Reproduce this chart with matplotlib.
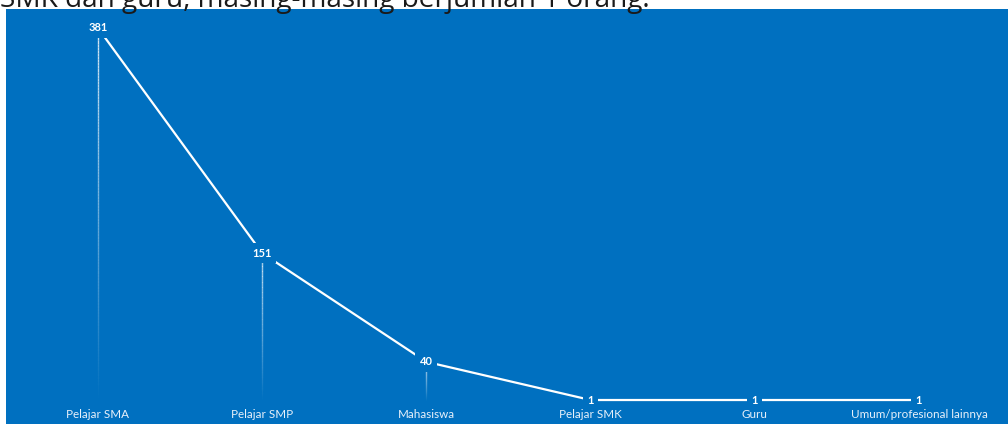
import matplotlib
matplotlib.use("Agg")
import matplotlib.pyplot as plt
import numpy as np
from matplotlib.collections import LineCollection

categories = ["Pelajar SMA", "Pelajar SMP", "Mahasiswa", "Pelajar SMK", "Guru", "Umum/profesional lainnya"]
values = [381, 151, 40, 1, 1, 1]
header_text = "SMK dan guru, masing-masing berjumlah 1 orang."

BLUE = "#0070C0"
W, H = 1008, 424
fig = plt.figure(figsize=(W / 100, H / 100), dpi=100)
fig.patch.set_facecolor("white")

ax = fig.add_axes([6 / W, 0, (W - 6) / W, 415 / H])
ax.set_facecolor(BLUE)
for s in ax.spines.values():
    s.set_visible(False)
ax.set_xticks([])
ax.set_yticks([])
ax.set_xlim(-0.56, 5.542)
ax.set_ylim(-23.5, 400.4)

x = np.arange(len(values))

# gradient drop lines
for xi, v in zip(x, values):
    if v <= 2:
        continue
    n = 120
    ys = np.linspace(v, 0, n + 1)
    segs = [[(xi, ys[k]), (xi, ys[k + 1])] for k in range(n)]
    alphas = np.linspace(0.85, 0.0, n)
    cols = [(1, 1, 1, a) for a in alphas]
    lc = LineCollection(segs, colors=cols, linewidths=1.0, zorder=2)
    ax.add_collection(lc)

ax.plot(x, values, color="white", lw=1.6, zorder=3, solid_capstyle="butt")

for xi, v in zip(x, values):
    ax.text(xi, v, str(v), ha="center", va="center", color="white",
            fontsize=8, fontweight="bold", family=["Lato", "DejaVu Sans"], zorder=5,
            bbox=dict(boxstyle="square,pad=0.4", fc=BLUE, ec="none"))

for xi, c in zip(x, categories):
    ax.text(xi, 0.024, c, transform=ax.get_xaxis_transform(), ha="center", va="center",
            color="#E8F0FA", fontsize=8.4, family=["Lato", "DejaVu Sans"], zorder=5)

fig.text(0.0, 1 - 7 / H, header_text, ha="left", va="baseline", fontsize=20.2,
         color="#1a1a1a", family=["Open Sans", "DejaVu Sans"])

fig.savefig("out.png", dpi=100, facecolor="white")
